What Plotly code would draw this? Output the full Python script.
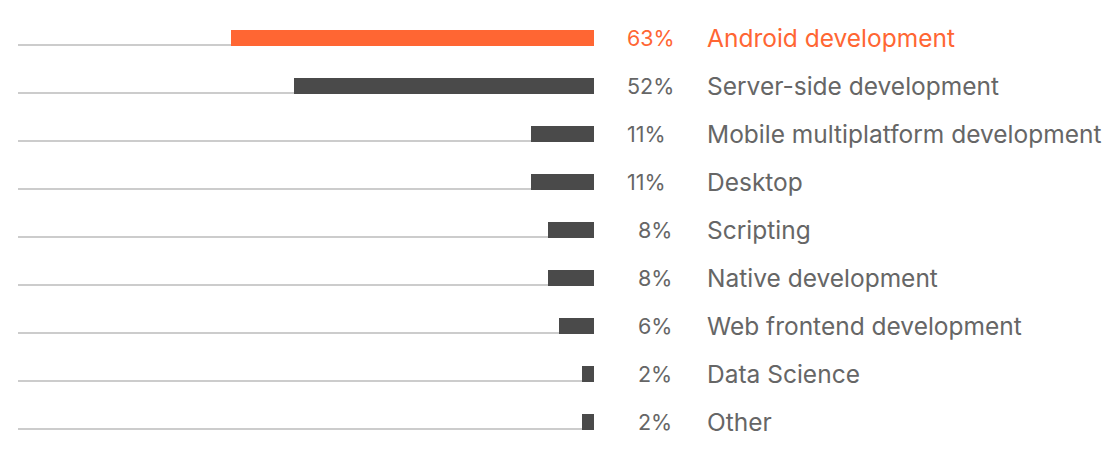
import plotly.graph_objects as go

categories = ["Android development", "Server-side development", "Mobile multiplatform development",
              "Desktop", "Scripting", "Native development", "Web frontend development",
              "Data Science", "Other"]
values = [63, 52, 11, 11, 8, 8, 6, 2, 2]
pct_labels = ["63%", "52%", "11%", "11%", "8%", "8%", "6%", "2%", "2%"]

ORANGE = "#ff6633"
DARK = "#4a4a4a"
TEXT = "#666666"
FONT = "Inter"

# page body adds an 8px offset, so the figure is drawn 8px smaller
W, H = 1110, 450
ML, MR, MT, MB = 10, 524, 6, 12
plot_w = W - ML - MR

rows = list(range(len(categories)))
bar_colors = [ORANGE if i == 0 else DARK for i in rows]

fig = go.Figure()

# thin gray baseline from the left edge up to each bar
fig.add_trace(go.Bar(
    y=rows, x=[100 - v for v in values], base=values,
    orientation="h", width=0.04, offset=0.1267,
    marker=dict(color="#cccccc", line=dict(width=0)),
    hoverinfo="skip", showlegend=False,
))

fig.add_trace(go.Bar(
    y=rows, x=values, orientation="h", width=0.34,
    marker=dict(color=bar_colors, line=dict(width=0)),
    customdata=categories,
    hovertemplate="%{customdata}: %{x}%<extra></extra>",
    showlegend=False,
))

def px_to_paper(px):
    return (px - 8 - ML) / plot_w

annotations = []
for i, (cat, lab) in enumerate(zip(categories, pct_labels)):
    col = ORANGE if i == 0 else TEXT
    shift = 11 if len(lab) == 2 else 0
    annotations.append(dict(
        x=px_to_paper(625), y=i, xref="paper", yref="y", text=lab,
        showarrow=False, xanchor="left", yanchor="middle", xshift=shift,
        font=dict(family=FONT, size=21.5, color=col),
    ))
    annotations.append(dict(
        x=px_to_paper(705), y=i, xref="paper", yref="y", text=cat,
        showarrow=False, xanchor="left", yanchor="middle",
        font=dict(family=FONT, size=24.5, color=col),
    ))

fig.update_layout(
    width=W, height=H,
    margin=dict(l=ML, r=MR, t=MT, b=MB),
    paper_bgcolor="white", plot_bgcolor="white",
    barmode="overlay", bargap=0,
    xaxis=dict(range=[100, 0], visible=False, fixedrange=True),
    yaxis=dict(range=[len(categories) - 0.5, -0.5], visible=False, fixedrange=True),
    annotations=annotations,
    font=dict(family=FONT),
)

fig.write_html("out.html")
